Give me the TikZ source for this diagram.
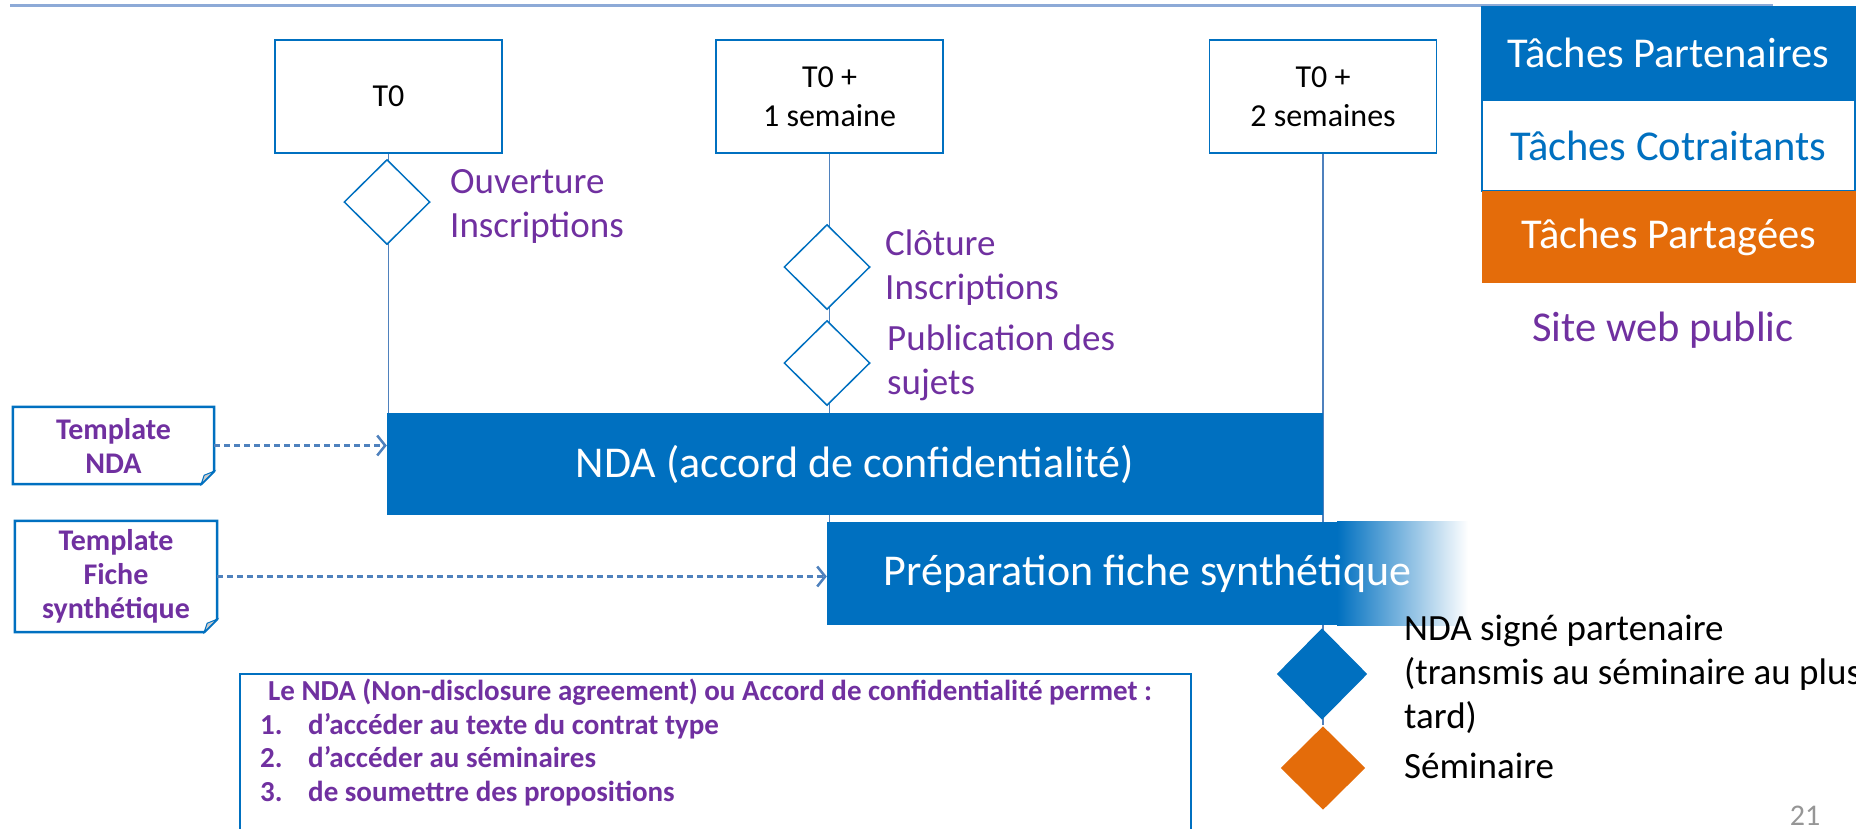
\documentclass[tikz,border=0pt]{standalone}
\usepackage{fontspec}
\setmainfont{Carlito}
\usetikzlibrary{shapes,arrows.meta,backgrounds}
\definecolor{nblue}{RGB}{0,112,192}
\definecolor{norange}{RGB}{228,108,10}
\definecolor{npurple}{RGB}{112,48,160}
\definecolor{nline}{RGB}{79,129,189}
\definecolor{ntop}{RGB}{141,170,215}
\definecolor{ngray}{RGB}{150,150,150}

\begin{document}
\begin{tikzpicture}[x=1pt,y=-1pt,>={Straight Barb[length=8pt,width=20pt]}]
\tikzstyle{datebox}=[rectangle,draw=nblue,line width=1.5pt,fill=white,minimum width=227pt,minimum height=113pt,align=center,font=\fontsize{32}{39}\selectfont]
\tikzstyle{jalon}=[diamond,draw=nblue,line width=1.5pt,fill=white,minimum width=86pt,minimum height=85pt,inner sep=0pt]
\tikzstyle{jalonlbl}=[anchor=north west,align=left,text=npurple,inner sep=0pt,font=\fontsize{37}{44}\selectfont]
\tikzstyle{tache}=[rectangle,fill=nblue,text=white,inner sep=0pt,font=\fontsize{44}{52}\selectfont]
\tikzstyle{legende}=[rectangle,inner sep=0pt,font=\fontsize{42.5}{50}\selectfont]
\tikzstyle{note}=[rectangle,inner sep=0pt,align=center,text=npurple,font=\bfseries\fontsize{30}{34}\selectfont]
\tikzstyle{notebord}=[draw=nblue,line width=2.5pt,line join=miter]
\tikzstyle{lien}=[draw=nline,line width=1.5pt]
\tikzstyle{fleche}=[->,draw=nline,line width=2.5pt,dash pattern=on 6pt off 4pt]
\tikzstyle{noir}=[anchor=north west,align=left,inner sep=0pt,font=\fontsize{37}{44}\selectfont]
\useasboundingbox (0,0) rectangle (1856,828);
\draw[ntop,line width=3pt] (10,5) -- (1773,5);

\node[legende,fill=nblue,text=white,minimum width=375pt,minimum height=94pt] (legp) at (1668.5,53) {Tâches Partenaires};
\node[legende,draw=nblue,line width=1.2pt,fill=white,text=nblue,minimum width=373pt,minimum height=91pt] (legc) at (1668.5,145.5) {Tâches Cotraitants};
\node[legende,fill=norange,text=white,minimum width=374pt,minimum height=92pt] (lego) at (1669,237) {Tâches Partagées};
\node[legende,text=npurple] (web) at (1663,330) {Site web public};

\node[datebox] (t0) at (388.5,96.5) {T0};
\node[datebox] (t1) at (829.5,96.5) {T0 +\\1 semaine};
\node[datebox] (t2) at (1323,96.5) {T0 +\\2 semaines};

\node[jalon] (ouv) at (387,202) {};
\node[jalon] (clo) at (827,267) {};
\node[jalon] (pub) at (827,363) {};
\node[jalonlbl] (ouvlbl) at (450,169) {Ouverture\\Inscriptions};
\node[jalonlbl] (clolbl) at (885,230) {Clôture\\Inscriptions};
\node[jalonlbl] (publbl) at (887,325) {Publication des\\sujets};

\node[tache,minimum width=936pt,minimum height=102pt] (nda) at (855,464) {NDA (accord de confidentialité)};
\node[tache,fill=none,minimum width=641pt,minimum height=103pt] (prep) at (1147.5,573.5) {Préparation fiche synthétique};

\node[jalon,draw=none,fill=nblue,minimum width=91pt,minimum height=92pt] (signe) at (1322,674) {};
\node[jalon,draw=none,fill=norange,minimum width=85pt,minimum height=84pt] (sem) at (1323,768) {};
\node[noir] (signelbl) at (1404,615) {NDA signé partenaire\\(transmis au séminaire au plus\\tard)};
\node[noir] (semlbl) at (1404,753) {Séminaire};

\node[note,minimum width=201pt,minimum height=77pt] (tnda) at (113.5,445.5) {Template\\NDA};
\node[note,minimum width=202pt,minimum height=111pt] (tfiche) at (116,576.5) {Template\\Fiche\\synthétique};
\foreach \n in {tnda,tfiche}{
  \draw[notebord] (\n.north west) -- (\n.north east) -- ([yshift=13pt]\n.south east) -- ([xshift=-13pt]\n.south east) -- (\n.south west) -- cycle;
  \filldraw[draw=nblue,fill=black!20,line width=1pt] ([yshift=13pt]\n.south east) -- ([xshift=-13pt]\n.south east) -- ([xshift=-10pt,yshift=9pt]\n.south east) -- cycle;
}
\draw[fleche] (tnda.east) -- (nda.west |- tnda.east);
\draw[fleche] (tfiche.east) -- (prep.west |- tfiche.east);

\node[draw=nblue,line width=2pt,anchor=north west,minimum width=951pt,minimum height=180pt] (infobox) at (239,673) {};
\node[anchor=north west,align=left,inner sep=0pt,text=npurple,font=\bfseries\fontsize{29}{33.5}\selectfont] (infotxt) at ([xshift=21pt,yshift=-6pt]infobox.north west)
  {\hspace*{8pt}Le NDA (Non-disclosure agreement) ou Accord de confidentialité permet :\\
   \makebox[48pt][l]{1.}d’accéder au texte du contrat type\\
   \makebox[48pt][l]{2.}d’accéder au séminaires\\
   \makebox[48pt][l]{3.}de soumettre des propositions};

\node[anchor=north,text=ngray,inner sep=0pt,font=\fontsize{30}{36}\selectfont] (page) at (1805,806) {21};

\begin{pgfonlayer}{background}
\draw[lien] (t0.south) -- (t0.south |- nda.north);
\draw[lien] (t1.south) -- (t1.south |- prep.north);
\draw[lien] (t2.south) -- (t2.south |- sem.north);
\fill[nblue] (prep.north west) rectangle ([xshift=-131pt]prep.south east);
\shade[left color=nblue,right color=white] ([xshift=-131pt]prep.north east) rectangle (prep.south east);
\end{pgfonlayer}
\end{tikzpicture}
\end{document}
